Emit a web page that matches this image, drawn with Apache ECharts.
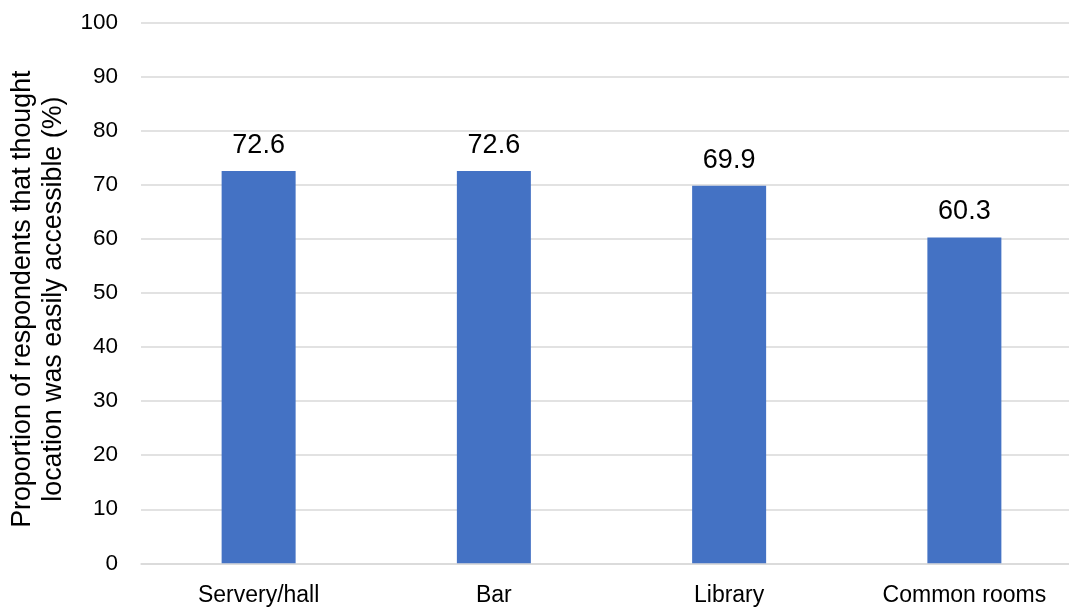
<!DOCTYPE html>
<html>
<head>
<meta charset="utf-8">
<script src="https://cdn.jsdelivr.net/npm/echarts@6/dist/echarts.min.js"></script>
<style>
html,body{margin:0;padding:0;background:#fff;}
#chart{width:1069px;height:608px;}
</style>
</head>
<body>
<div id="chart"></div>
<script>
const categories = ['Servery/hall', 'Bar', 'Library', 'Common rooms'];
const values = [72.6, 72.6, 69.9, 60.3];
const yTicks = [0, 10, 20, 30, 40, 50, 60, 70, 80, 90, 100];
const yAxisName = 'Proportion of respondents that thought\nlocation was easily accessible (%)';

const FONT = '"Liberation Sans", Arial, sans-serif';
const chart = echarts.init(document.getElementById('chart'));
chart.setOption({
  animation: false,
  textStyle: { fontFamily: FONT },
  grid: { left: 141, right: -13, top: 23, bottom: 44.7, containLabel: false, outerBoundsMode: 'none' },
  xAxis: {
    type: 'category',
    data: categories,
    axisLine: { show: true, lineStyle: { color: '#d9d9d9', width: 1.5 } },
    axisTick: { show: false },
    axisLabel: { color: '#000', fontSize: 23, margin: 21, fontFamily: FONT }
  },
  yAxis: {
    type: 'value',
    min: yTicks[0],
    max: yTicks[yTicks.length - 1],
    interval: 10,
    name: yAxisName,
    nameLocation: 'middle',
    nameRotate: 90,
    nameGap: 70,
    nameTextStyle: { color: '#000', fontSize: 26.8, lineHeight: 31, padding: [0, 12, 0, 0], fontFamily: FONT },
    axisLine: { show: false },
    axisTick: { show: false },
    axisLabel: { color: '#000', fontSize: 22.5, margin: 23, fontFamily: FONT },
    splitLine: { show: true, lineStyle: { color: '#d9d9d9', width: 1.5 } }
  },
  series: [{
    type: 'bar',
    data: values,
    barWidth: 74,
    itemStyle: { color: '#4472C4' },
    label: {
      show: true,
      position: 'top',
      distance: 12,
      color: '#000',
      fontSize: 27,
      fontFamily: FONT,
      formatter: p => p.value.toFixed(1)
    }
  }]
});
</script>
</body>
</html>
